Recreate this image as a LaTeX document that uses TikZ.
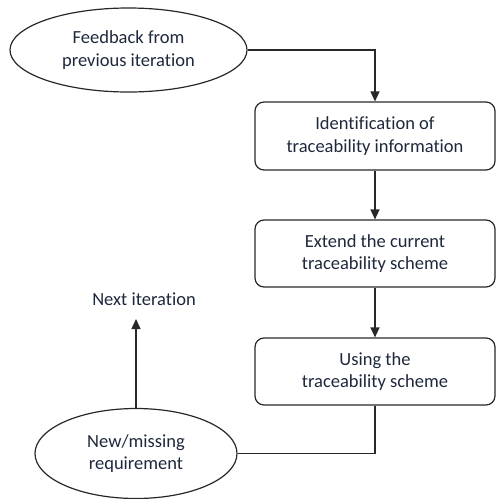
\documentclass[tikz,border=0pt]{standalone}
\usepackage{fontspec}
\setmainfont[Ligatures=NoCommon]{Carlito}
\usetikzlibrary{shapes.geometric,arrows.meta}
\definecolor{txt}{RGB}{30,40,60}
\definecolor{ln}{RGB}{40,40,40}
\begin{document}
\begin{tikzpicture}[x=1pt,y=-1pt,
  every node/.style={font=\fontsize{18.5}{22.5}\selectfont, text=txt, align=center},
  procbox/.style={draw=ln, line width=1.2pt, rounded corners=9pt, minimum width=240pt, minimum height=68pt, inner sep=0pt},
  oval/.style={draw=ln, line width=1.2pt, ellipse, inner sep=0pt},
  conn/.style={draw=ln, line width=1.3pt},
  arr/.style={conn, -{Triangle[length=10pt,width=9pt]}}]
\useasboundingbox (0,0) rectangle (496,499);
\node[oval, minimum width=237pt, minimum height=84pt] (fb) at (128.5,50) {Feedback from\\previous iteration};
\node[procbox] (id) at (375,136) {Identification of\\traceability information};
\node[procbox, minimum height=67pt] (ext) at (375,253.5) {Extend the current\\traceability scheme};
\node[procbox, minimum height=67pt] (use) at (375,371.5) {Using the\\traceability scheme};
\node[oval, minimum width=202pt, minimum height=90pt] (nm) at (136,453.5) {New/missing\\requirement};
\node (next) at (144,299) {Next iteration};
\coordinate (nt) at (136,319);
\draw[arr] (fb.east) -| (id.north);
\draw[arr] (id) -- (ext);
\draw[arr] (ext) -- (use);
\draw[conn] (use.south) |- (nm.east);
\draw[arr] (nm.north) -- (nt);
\end{tikzpicture}
\end{document}
